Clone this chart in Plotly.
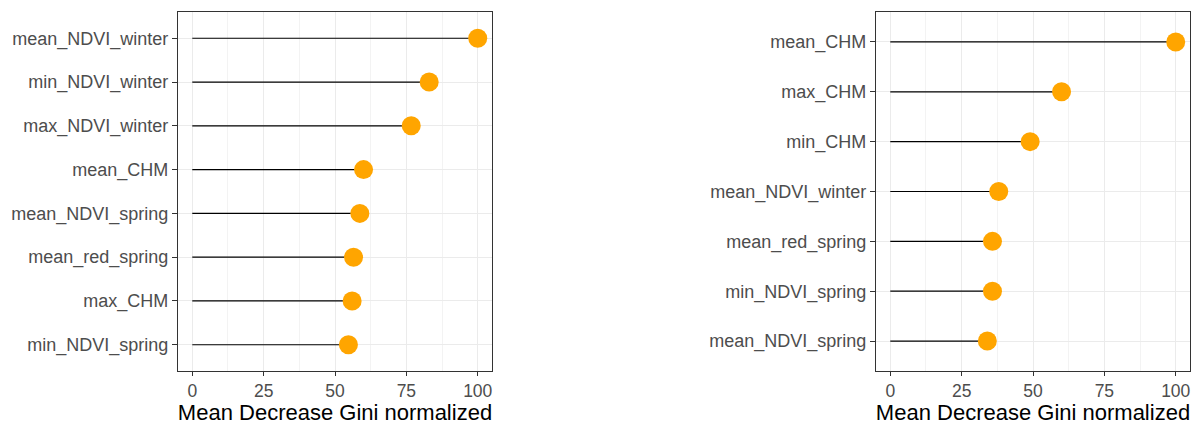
import plotly.graph_objects as go

# Left panel data (top to bottom)
left_vars = ["mean_NDVI_winter", "min_NDVI_winter", "max_NDVI_winter", "mean_CHM",
             "mean_NDVI_spring", "mean_red_spring", "max_CHM", "min_NDVI_spring"]
left_vals = [100, 83, 76.7, 60, 58.7, 56.5, 56, 54.7]

# Right panel data (top to bottom)
right_vars = ["mean_CHM", "max_CHM", "min_CHM", "mean_NDVI_winter",
              "mean_red_spring", "min_NDVI_spring", "mean_NDVI_spring"]
right_vals = [100, 60, 49, 38, 35.8, 35.8, 34]

x_ticks = [0, 25, 50, 75, 100]
x_title = "Mean Decrease Gini normalized"

FONT = "Liberation Sans, Arial, sans-serif"
ORANGE = "#FFA500"

fig = go.Figure()


def add_panel(vars_, vals, xa, ya):
    xs, ys = [], []
    for v, val in zip(vars_, vals):
        xs += [0, val, None]
        ys += [v, v, None]
    fig.add_trace(go.Scatter(x=xs, y=ys, mode="lines",
                             line=dict(color="black", width=1.2),
                             xaxis=xa, yaxis=ya, showlegend=False,
                             hoverinfo="skip"))
    fig.add_trace(go.Scatter(x=vals, y=vars_, mode="markers",
                             marker=dict(color=ORANGE, size=19, line=dict(width=0)),
                             xaxis=xa, yaxis=ya, showlegend=False))


add_panel(left_vars, left_vals, "x", "y")
add_panel(right_vars, right_vals, "x2", "y2")

ydom = [1 - 371 / 425, 1 - 12 / 425]

common_x = dict(
    range=[-5, 105], tickvals=x_ticks, ticks="outside", ticklen=4,
    tickcolor="#333333", tickwidth=1, showline=True, linecolor="#333333",
    linewidth=1.3, mirror=True, showgrid=True, gridcolor="#EBEBEB", gridwidth=1,
    zeroline=False,
    minor=dict(tickvals=[12.5, 37.5, 62.5, 87.5], showgrid=True,
               gridcolor="#F3F3F3", gridwidth=1, ticks=""),
    tickfont=dict(family=FONT, size=17.5, color="#4D4D4D"),
    title=dict(text=x_title, font=dict(family=FONT, size=22, color="black"),
               standoff=1),
    automargin=False,
)


def y_axis(vars_, dom, anchor):
    return dict(
        type="category", categoryorder="array", categoryarray=list(reversed(vars_)),
        range=[-0.6, len(vars_) - 0.4], domain=dom, anchor=anchor,
        ticks="outside", ticklen=5, tickcolor="#333333", tickwidth=1,
        showline=True, linecolor="#333333", linewidth=1.3, mirror=True,
        showgrid=True, gridcolor="#EBEBEB", gridwidth=1, zeroline=False,
        tickfont=dict(family=FONT, size=18, color="#4D4D4D"),
        automargin=False,
    )


fig.update_layout(
    width=1195, height=425,
    margin=dict(l=0, r=0, t=0, b=0),
    paper_bgcolor="white", plot_bgcolor="white",
    xaxis=dict(common_x, domain=[178 / 1195, 492 / 1195], anchor="y"),
    xaxis2=dict(common_x, domain=[876 / 1195, 1190 / 1195], anchor="y2"),
    yaxis=y_axis(left_vars, ydom, "x"),
    yaxis2=y_axis(right_vars, ydom, "x2"),
)

fig.write_html("out.html", config={"displayModeBar": False},
               post_script="document.body.style.margin='0';document.body.style.overflow='hidden';")
